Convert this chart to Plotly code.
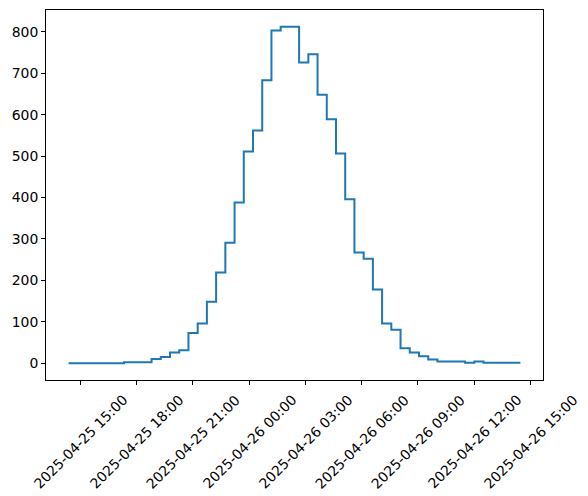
import pandas as pd
import plotly.graph_objects as go

# 49 bins spanning the observed time range
bin_start = "2025-04-25 14:23"
bin_end = "2025-04-26 14:28"
counts = [
    0, 0, 0, 0, 0, 0, 2, 2, 2, 10,
    15, 26, 31, 73, 96, 148, 219, 291, 388, 511,
    562, 683, 803, 812, 812, 726, 746, 648, 589, 506,
    396, 267, 252, 178, 96, 81, 36, 26, 17, 9,
    4, 4, 4, 1, 4, 1, 1, 1, 1,
]
tick_times = pd.date_range("2025-04-25 15:00", "2025-04-26 15:00", freq="3h")
y_ticks = list(range(0, 900, 100))

edges = pd.date_range(bin_start, bin_end, periods=len(counts) + 1)
step_y = counts + [counts[-1]]

FONT = "DejaVu Sans, Liberation Sans, sans-serif"

fig = go.Figure()
fig.add_trace(
    go.Scatter(
        x=edges,
        y=step_y,
        mode="lines",
        line=dict(color="#1f77b4", width=2, shape="hv"),
        showlegend=False,
        hoverinfo="skip",
    )
)

span = edges[-1] - edges[0]
x_range = [edges[0] - span * 0.05, edges[-1] + span * 0.05]
ymax = max(counts)
y_range = [-0.05 * ymax, ymax * 1.05]

# matplotlib-style centred, rotated tick labels
for t in tick_times:
    fig.add_annotation(
        x=t,
        y=-0.028,
        xref="x",
        yref="paper",
        text=t.strftime("%Y-%m-%d %H:%M"),
        textangle=-45,
        showarrow=False,
        xanchor="center",
        yanchor="top",
        font=dict(family=FONT, size=13.9, color="black"),
        borderpad=0,
    )

fig.update_xaxes(
    range=x_range,
    tickvals=tick_times,
    showticklabels=False,
    ticks="outside",
    ticklen=4,
    tickwidth=1,
    tickcolor="black",
    showline=True,
    linecolor="black",
    linewidth=1,
    mirror=True,
    showgrid=False,
    zeroline=False,
)
fig.update_yaxes(
    range=y_range,
    tickvals=y_ticks,
    ticks="outside",
    ticklen=4,
    tickwidth=1,
    tickcolor="black",
    showline=True,
    linecolor="black",
    linewidth=1,
    mirror=True,
    showgrid=False,
    zeroline=False,
    tickfont=dict(family=FONT, size=13.9, color="black"),
)
fig.update_layout(
    width=588,
    height=496,
    margin=dict(l=46, r=45, t=10, b=116),
    plot_bgcolor="white",
    paper_bgcolor="white",
    font=dict(family=FONT, size=13.9, color="black"),
)

# drop the browser's default body margin so the figure sits at the page origin
fig.write_html(
    "out.html",
    config={"displayModeBar": False},
    post_script="document.body.style.margin = '0';",
)
